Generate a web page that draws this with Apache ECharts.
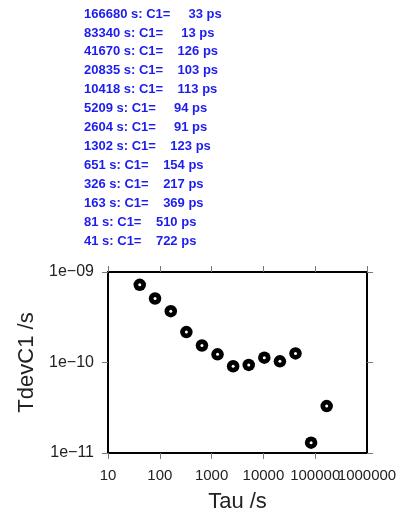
<!DOCTYPE html>
<html>
<head>
<meta charset="utf-8">
<script src="https://cdn.jsdelivr.net/npm/echarts@6/dist/echarts.min.js"></script>
<style>
html,body{margin:0;padding:0;background:#fff;}
#chart{width:408px;height:519px;}
</style>
</head>
<body>
<div id="chart"></div>
<script>
// Averaging times (s) and TDEV of C1 (ps)
const tau = [41, 81, 163, 326, 651, 1302, 2604, 5209, 10418, 20835, 41670, 83340, 166680];
const c1ps = [722, 510, 369, 217, 154, 123, 91, 94, 113, 103, 126, 13, 33];
const xTicks = [10, 100, 1000, 10000, 100000, 1000000];
const yTicks = [1e-11, 1e-10, 1e-9];

const chart = echarts.init(document.getElementById('chart'));

// Listing lines, longest tau first
const lines = [];
for (let i = tau.length - 1; i >= 0; i--) {
  const v = String(c1ps[i]);
  lines.push(tau[i] + ' s: C1=' + ' '.repeat(7 - v.length) + v + ' ps');
}
const listing = lines.map((t, k) => ({
  type: 'text',
  left: 84,
  top: 7.5 + k * 18.95,
  style: {
    text: t,
    fill: '#1c1cf0',
    font: 'bold 13px "Liberation Sans", Arial, sans-serif'
  }
}));

const fmtY = v => {
  const e = Math.round(Math.log10(v));
  return '1e\u2212' + String(-e).padStart(2, '0');
};

const labelFont = { fontFamily: '"Liberation Sans", Arial, sans-serif', color: '#222' };
const tickStyle = { show: true, length: 6, inside: false, lineStyle: { color: '#777', width: 1 } };
const frameLine = { show: true, lineStyle: { color: '#000', width: 2 } };
const xMin = xTicks[0], xMax = xTicks[xTicks.length - 1];
const fmtX = v => String(Math.round(v));

const pts = tau.map((t, i) => [t, c1ps[i] * 1e-12]);

chart.setOption({
  animation: false,
  graphic: listing,
  grid: { left: 108, right: 41, top: 272, bottom: 66, containLabel: false },
  xAxis: [{
    type: 'log', logBase: 10, min: xMin, max: xMax,
    position: 'bottom',
    name: 'Tau /s', nameLocation: 'middle', nameGap: 38,
    nameTextStyle: { ...labelFont, fontSize: 22 },
    axisLine: frameLine, axisTick: tickStyle, splitLine: { show: false },
    axisLabel: { ...labelFont, fontSize: 15, margin: 15, hideOverlap: false,
      showMinLabel: true, showMaxLabel: false, formatter: fmtX }
  }, {
    type: 'log', logBase: 10, min: xMin, max: xMax,
    position: 'top',
    axisLine: frameLine, axisTick: tickStyle, splitLine: { show: false },
    axisLabel: { show: false }
  }, {
    // end label of the bottom scale, drawn on its own so it may overlap its neighbour
    type: 'log', logBase: 10, min: xMin, max: xMax,
    position: 'bottom', gridIndex: 0,
    axisLine: { show: false }, axisTick: { show: false }, splitLine: { show: false },
    axisLabel: { ...labelFont, fontSize: 15, margin: 15, showMaxLabel: true,
      formatter: v => (v >= xMax ? fmtX(v) : '') }
  }],
  yAxis: [{
    type: 'log', logBase: 10, min: yTicks[0], max: yTicks[yTicks.length - 1],
    position: 'left',
    name: 'TdevC1 /s', nameLocation: 'middle', nameGap: 67, nameRotate: 90,
    nameTextStyle: { ...labelFont, fontSize: 22 },
    axisLine: frameLine, axisTick: tickStyle, splitLine: { show: false },
    axisLabel: { ...labelFont, fontSize: 16, margin: 14, formatter: fmtY }
  }, {
    type: 'log', logBase: 10, min: yTicks[0], max: yTicks[yTicks.length - 1],
    position: 'right',
    axisLine: frameLine, axisTick: tickStyle, splitLine: { show: false },
    axisLabel: { show: false }
  }],
  series: [{
    type: 'scatter',
    data: pts,
    symbol: 'circle',
    symbolSize: 12.5,
    itemStyle: { color: '#000', opacity: 1 },
    z: 5
  }, {
    type: 'scatter',
    data: pts,
    symbol: 'circle',
    symbolSize: 3,
    itemStyle: { color: '#fff', opacity: 1 },
    silent: true,
    z: 6
  }]
});
</script>
</body>
</html>
